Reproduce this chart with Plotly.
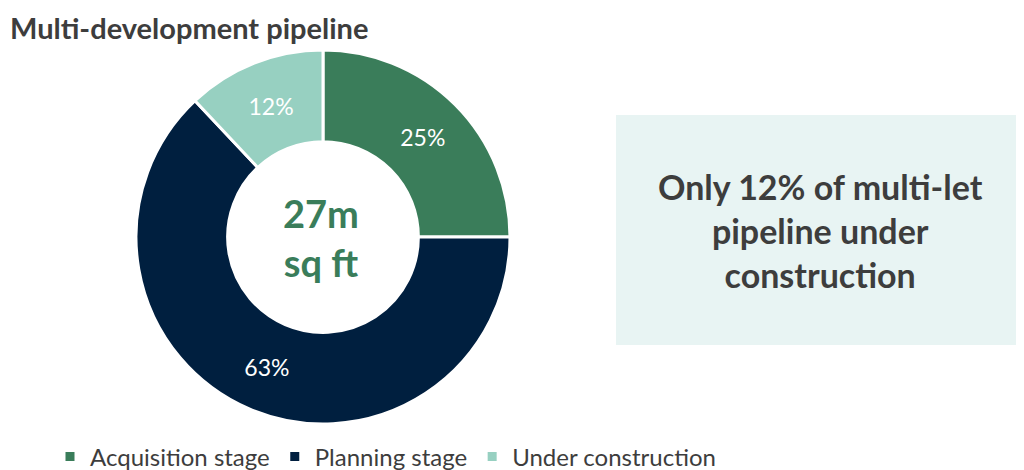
import plotly.graph_objects as go

labels = ["Acquisition stage", "Planning stage", "Under construction"]
values = [25, 63, 12]
colors = ["#3a7d5a", "#001f3f", "#97d0c1"]
title_text = "Multi-development pipeline"
center_text = "27m<br>sq ft"
callout_text = "Only 12% of multi-let<br>pipeline under<br>construction"

FONT = "Lato, 'Open Sans', sans-serif"
W, H = 1024, 470
OFF = 8  # page body margin offset
cx, cy, R = 323 - OFF, 237 - OFF, 187


def px(x):
    return (x - OFF) / W


def py(y):
    return 1 - (y - OFF) / H


fig = go.Figure(go.Pie(
    labels=labels, values=values, sort=False, direction="clockwise", rotation=0,
    hole=0.51,
    marker=dict(colors=colors, line=dict(color="white", width=3)),
    textinfo="percent", texttemplate="%{percent:.0%}",
    textposition="inside", insidetextorientation="horizontal",
    textfont=dict(color="white", size=23, family=FONT),
    domain=dict(x=[(cx - R) / W, (cx + R) / W], y=[(H - cy - R) / H, (H - cy + R) / H]),
    showlegend=True,
))

fig.update_layout(
    width=W, height=H,
    margin=dict(l=0, r=0, t=0, b=0, autoexpand=False),
    paper_bgcolor="white", plot_bgcolor="white",
    font=dict(family=FONT, color="#3d3d3d"),
    showlegend=True,
    legend=dict(orientation="h", x=px(50), y=py(457), xanchor="left", yanchor="middle",
                font=dict(size=24, color="#3d3d3d", family=FONT),
                itemwidth=30, tracegroupgap=0, bgcolor="rgba(0,0,0,0)"),
    shapes=[dict(type="rect", xref="paper", yref="paper", x0=px(616), x1=1.0,
                 y0=py(345), y1=py(115), fillcolor="#e8f4f3",
                 line=dict(width=0), layer="below")],
    annotations=[
        dict(text="<b>" + title_text + "</b>", x=px(8), y=1.0, xref="paper", yref="paper",
             xanchor="left", yanchor="top", showarrow=False,
             font=dict(size=29, color="#3d3d3d", family=FONT)),
        dict(text="<b>" + center_text + "</b>", x=px(321), y=py(238), xref="paper", yref="paper",
             xanchor="center", yanchor="middle", showarrow=False,
             font=dict(size=38, color="#3a7d5a", family=FONT)),
        dict(text="<b>" + callout_text + "</b>", x=px(820), y=py(231), xref="paper", yref="paper",
             xanchor="center", yanchor="middle", showarrow=False,
             font=dict(size=34, color="#3d3d3d", family=FONT)),
    ],
)

fig.write_html("out.html")
